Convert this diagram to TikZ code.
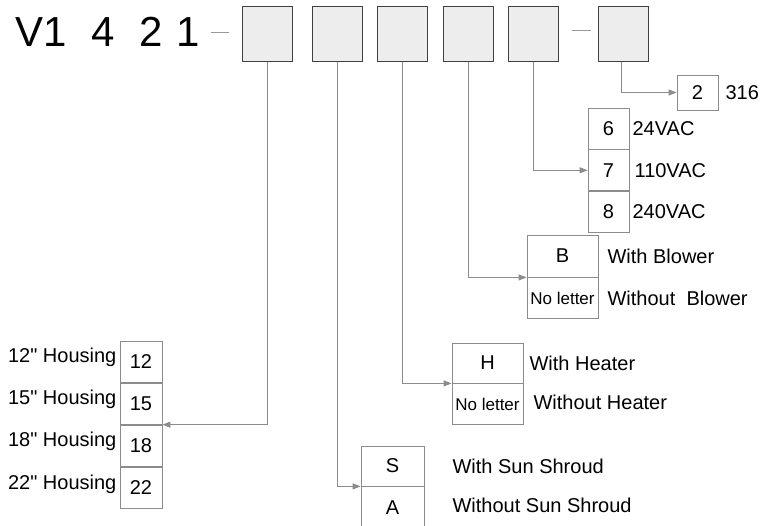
\documentclass[tikz,border=0pt]{standalone}
\usepackage{fontspec}
\setmainfont{Liberation Sans}
\newfontfamily\plainfont{Liberation Sans}
\usepackage{tikz}
\usetikzlibrary{positioning,arrows.meta}

\newcommand{\bigfont}{\fontsize{42}{46}\selectfont}
\newcommand{\lblfont}{\fontsize{20}{24}\selectfont}
\newcommand{\smallfont}{\fontsize{17}{20}\selectfont}
\newcommand{\inch}{{\plainfont"}}

\tikzset{
	topbox/.style={draw=black!75,fill=black!7,line width=0.8pt,minimum width=50pt,minimum height=55pt,inner sep=0pt},
	cell/.style={draw=black!45,fill=white,line width=0.8pt,inner sep=0pt,font=\lblfont},
	conn/.style={draw=black!45,line width=0.8pt,-{Triangle[length=8pt,width=6pt]}},
	dashline/.style={draw=black!40,line width=0.8pt},
	lbl/.style={font=\lblfont,inner sep=2pt}
}

\begin{document}
\begin{tikzpicture}[x=1pt,y=-1pt]
		\useasboundingbox (0,0) rectangle (767,526);
		% model code and the six option boxes
		\node[anchor=base west,inner sep=0pt,font=\bigfont] (code) at (15,47) {V1\hspace{25pt}4\hspace{25pt}2\hspace{13pt}1};
		\node[topbox] (t1) at (267,34) {};
		\node[topbox] (t2) at (337,34) {};
		\node[topbox] (t3) at (402.5,34) {};
		\node[topbox] (t4) at (468.5,34) {};
		\node[topbox] (t5) at (533.5,34) {};
		\node[topbox] (t6) at (623.5,34) {};
		\draw[dashline,shorten <=11pt,shorten >=13pt] (code.east) -- (code.east -| t1.west);
		\draw[dashline,shorten <=13pt,shorten >=7pt] ([yshift=4pt]t5.east) -- ([yshift=4pt]t6.west);
		
		% housing size
		\node[cell,minimum width=42pt,minimum height=41.25pt] (h12) at (141,361.6) {12};
		\node[cell,minimum width=42pt,minimum height=41.25pt,below=0pt of h12] (h15) {15};
		\node[cell,minimum width=42pt,minimum height=41.25pt,below=0pt of h15] (h18) {18};
		\node[cell,minimum width=42pt,minimum height=41.25pt,below=0pt of h18] (h22) {22};
		\node[lbl,left=1pt of h12,yshift=4pt] (l12) {12\inch\ Housing};
		\node[lbl,left=1pt of h15,yshift=4pt] (l15) {15\inch\ Housing};
		\node[lbl,left=1pt of h18,yshift=4pt] (l18) {18\inch\ Housing};
		\node[lbl,left=1pt of h22,yshift=3pt] (l22) {22\inch\ Housing};
		
		% sun shroud
		\node[cell,minimum width=63pt,minimum height=40pt] (sS) at (392.5,466) {S};
		\node[cell,minimum width=63pt,minimum height=42pt,below=0pt of sS] (sA) {A};
		\node[lbl,right=26pt of sS] (lS) {With Sun Shroud};
		\node[lbl,right=26pt of sA,yshift=2pt] (lA) {Without Sun Shroud};
		
		% heater
		\node[cell,minimum width=71pt,minimum height=40pt] (hH) at (487.5,363) {H};
		\node[cell,minimum width=71pt,minimum height=41pt,below=0pt of hH,font=\smallfont] (hN) {No letter};
		\node[lbl,right=4pt of hH] (lH) {With Heater};
		\node[lbl,right=8pt of hN,yshift=2pt] (lHN) {Without Heater};
		
		% blower
		\node[cell,minimum width=71pt,minimum height=42pt] (bB) at (562.5,256) {B};
		\node[cell,minimum width=71pt,minimum height=41pt,below=0pt of bB,font=\smallfont] (bN) {No letter};
		\node[lbl,right=7pt of bB] (lB) {With Blower};
		\node[lbl,right=7pt of bN] (lBN) {Without\ \ Blower};
		
		% voltage
		\node[cell,minimum width=41pt,minimum height=41pt] (v6) at (608.5,128.5) {6};
		\node[cell,minimum width=41pt,minimum height=41pt,below=0pt of v6] (v7) {7};
		\node[cell,minimum width=41pt,minimum height=41pt,below=0pt of v7] (v8) {8};
		\node[lbl,right=1pt of v6] (l6) {24VAC};
		\node[lbl,right=3pt of v7] (l7) {110VAC};
		\node[lbl,right=1pt of v8] (l8) {240VAC};
		
		% material
		\node[cell,minimum width=41pt,minimum height=35pt] (m2) at (697.5,92.5) {2};
		\node[lbl,right=5pt of m2] (l316) {316};
		
		% connectors
		\draw[conn] (t1.south) |- (h15.south east);
		\draw[conn] (t2.south) |- (sS.south west);
		\draw[conn] (t3.south) |- (hH.south west);
		\draw[conn] (t4.south) |- (bB.south west);
		\draw[conn] (t5.south) |- (v7.west);
		\draw[conn] ([xshift=-2pt]t6.south) |- (m2.west);
	\end{tikzpicture}
\end{document}
